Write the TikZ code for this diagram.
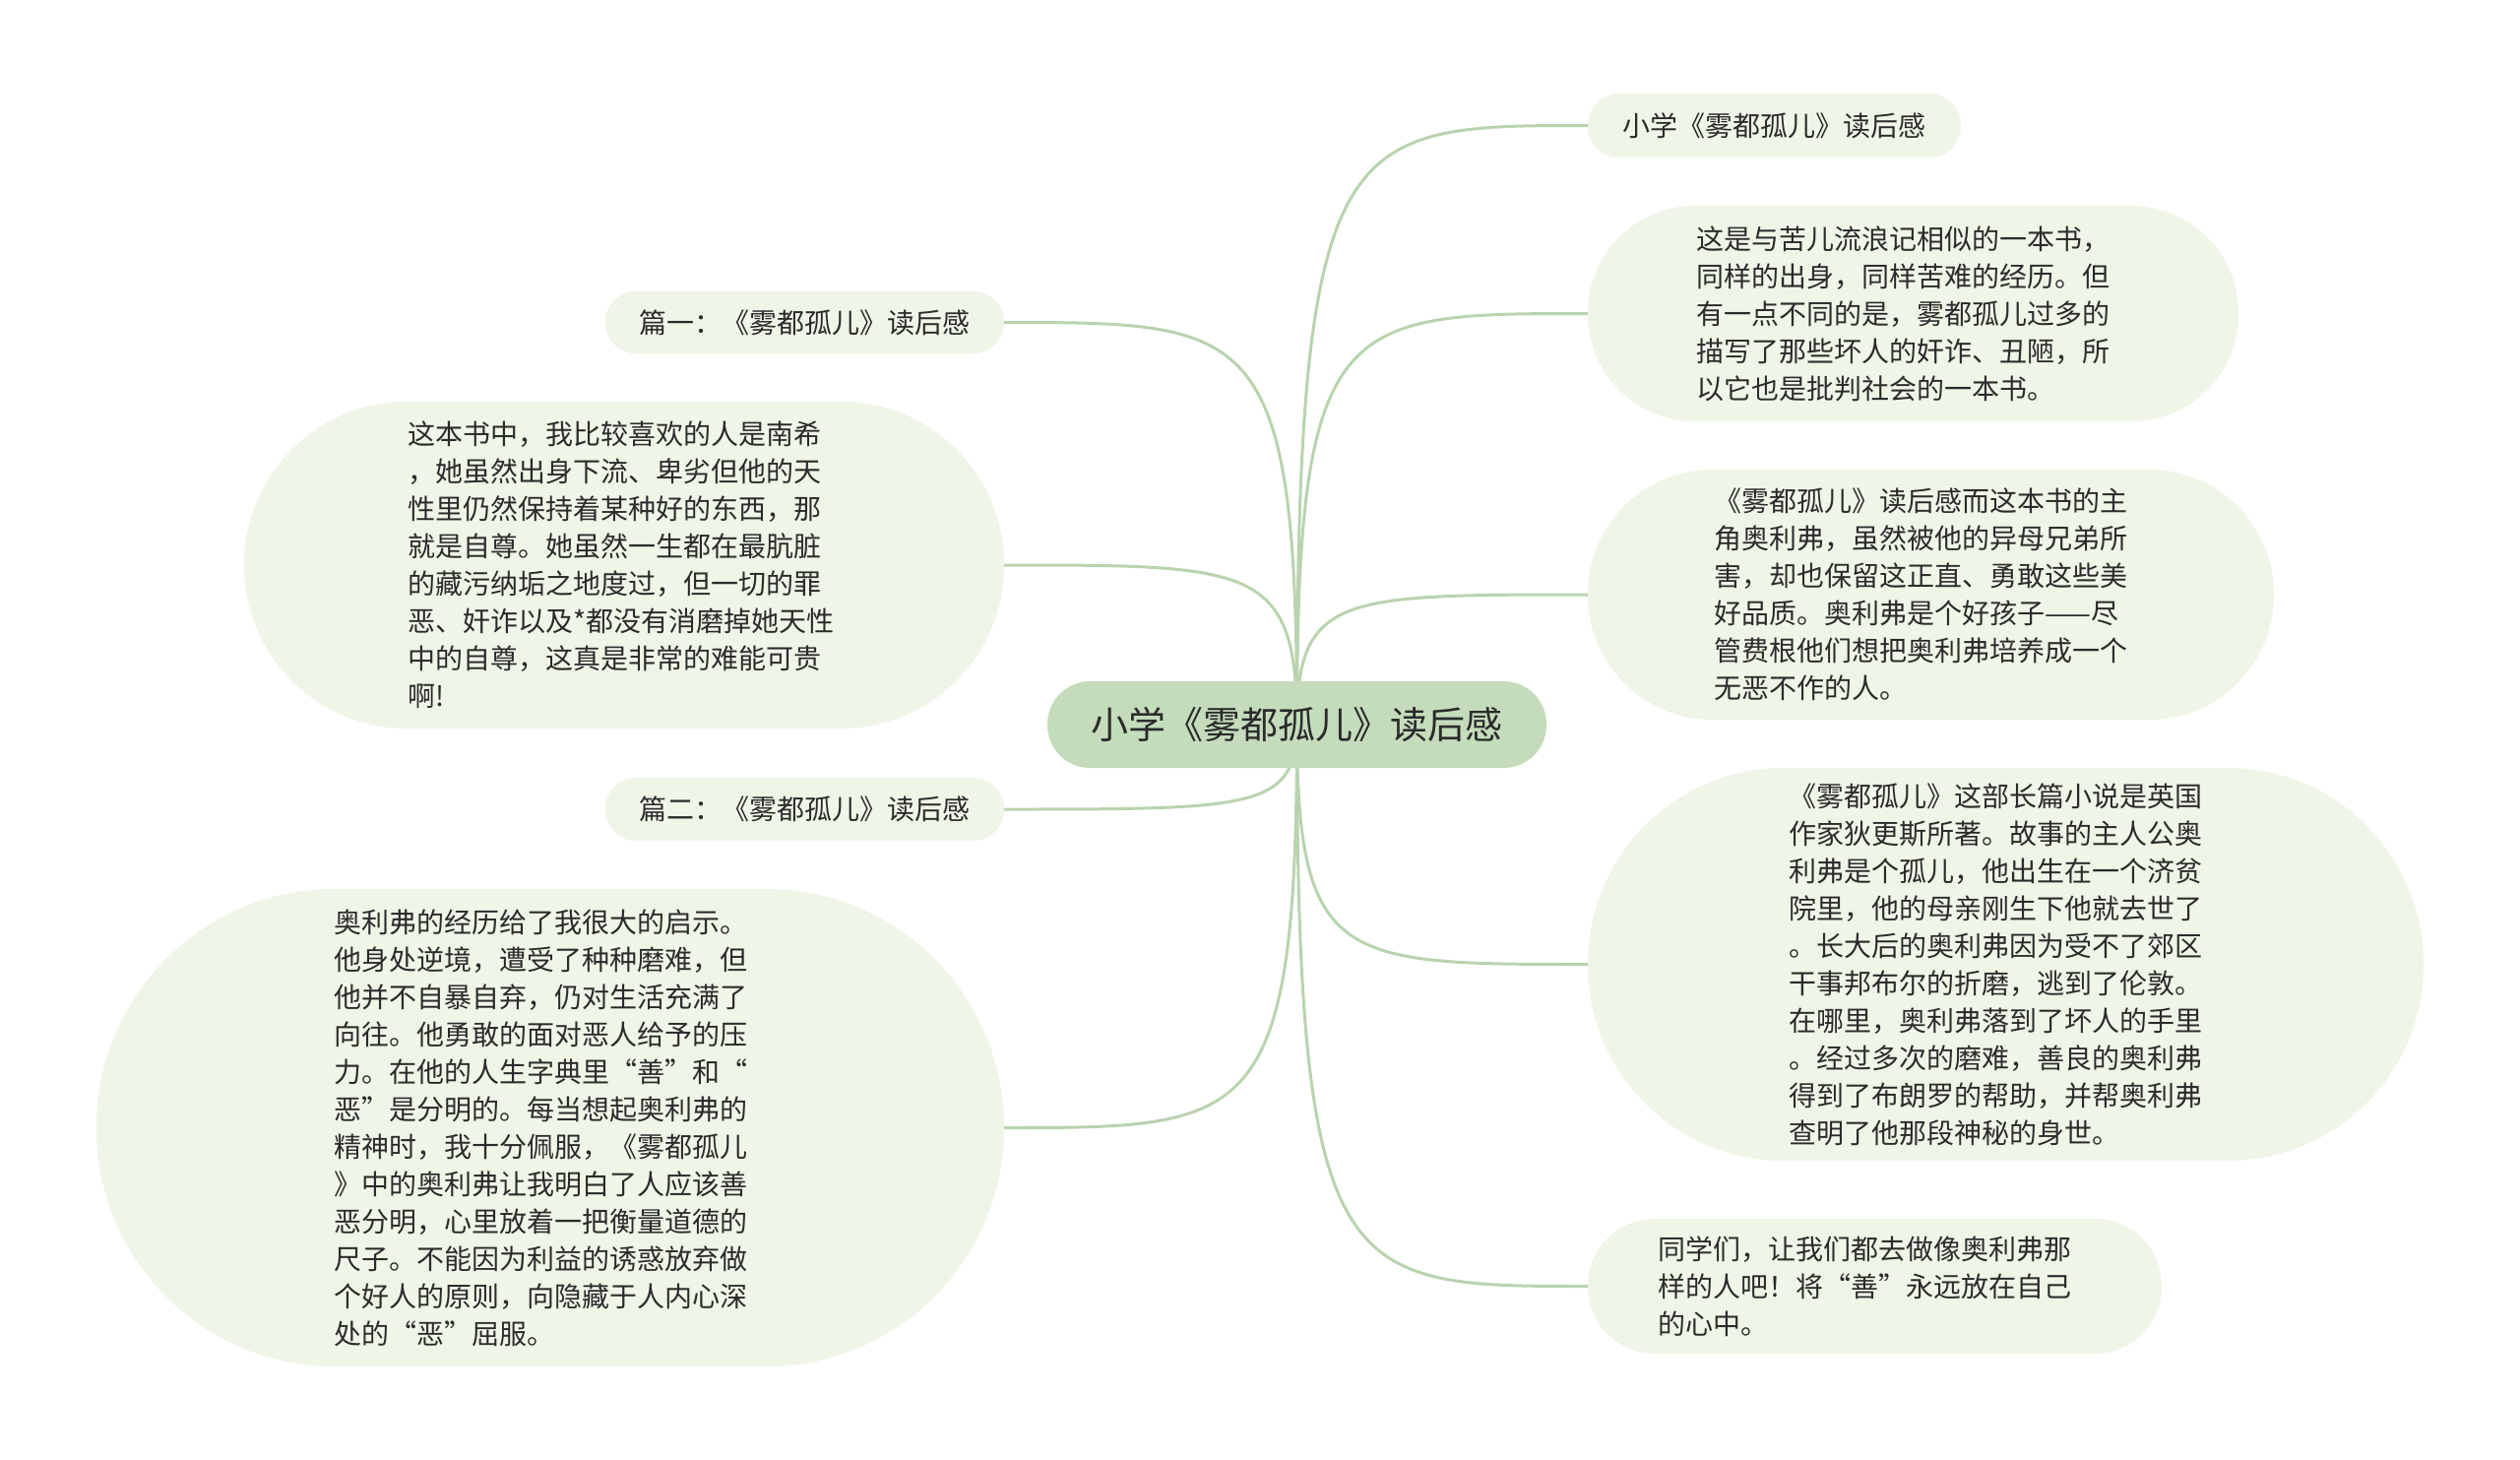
\documentclass[tikz,border=0pt]{standalone}
\usepackage{fontspec}
\setmainfont{Noto Sans CJK SC}
\usetikzlibrary{calc}
\pgfdeclarelayer{paper}
\pgfdeclarelayer{bg}
\pgfsetlayers{paper,bg,main}
\definecolor{leaffill}{HTML}{EFF5E7}
\definecolor{rootfill}{HTML}{C4DCBB}
\definecolor{linkc}{HTML}{B9D3AF}
\definecolor{txt}{HTML}{2B2B2B}
\begin{document}
\begin{tikzpicture}[x=1pt,y=-1pt,
  box/.style={rectangle, fill=leaffill, inner sep=0pt, align=left, text=txt,
    font=\fontsize{28}{38}\selectfont},
  textbox/.style={box, text width=440pt},
  rootbox/.style={rectangle, fill=rootfill, inner sep=0pt, text=txt,
    font=\fontsize{38}{46}\selectfont},
  link/.style={draw=linkc, line width=3pt}]
\begin{pgfonlayer}{paper}
\fill[white] (0,0) rectangle (2560,1483);
\end{pgfonlayer}
\useasboundingbox (0,0) rectangle (2560,1483);

\node[rootbox, minimum width=507pt, minimum height=88pt, rounded corners=43.5pt] (root) at (1317.5,736) {小学《雾都孤儿》读后感};

\node[box, minimum width=379pt, minimum height=65pt, rounded corners=32pt] (r1) at (1802.5,127.5) {小学《雾都孤儿》读后感};

\node[textbox, minimum width=661pt, minimum height=219pt, rounded corners=109pt] (r2) at (1943.5,318.5) {这是与苦儿流浪记相似的一本书，\\
同样的出身，同样苦难的经历。但\\
有一点不同的是，雾都孤儿过多的\\
描写了那些坏人的奸诈、丑陋，所\\
以它也是批判社会的一本书。};

\node[textbox, minimum width=697pt, minimum height=254pt, rounded corners=126.5pt] (r3) at (1961.5,604) {《雾都孤儿》读后感而这本书的主\\
角奥利弗，虽然被他的异母兄弟所\\
害，却也保留这正直、勇敢这些美\\
好品质。奥利弗是个好孩子——尽\\
管费根他们想把奥利弗培养成一个\\
无恶不作的人。};

\node[textbox, minimum width=849pt, minimum height=399pt, rounded corners=199pt] (r4) at (2037.5,979.5) {《雾都孤儿》这部长篇小说是英国\\
作家狄更斯所著。故事的主人公奥\\
利弗是个孤儿，他出生在一个济贫\\
院里，他的母亲刚生下他就去世了\\
。长大后的奥利弗因为受不了郊区\\
干事邦布尔的折磨，逃到了伦敦。\\
在哪里，奥利弗落到了坏人的手里\\
。经过多次的磨难，善良的奥利弗\\
得到了布朗罗的帮助，并帮奥利弗\\
查明了他那段神秘的身世。};

\node[textbox, minimum width=583pt, minimum height=137pt, rounded corners=68pt] (r5) at (1904.5,1306.5) {同学们，让我们都去做像奥利弗那\\
样的人吧！将“善”永远放在自己\\
的心中。};

\node[box, minimum width=405pt, minimum height=63pt, rounded corners=31pt] (l1) at (817.5,327.5) {篇一：《雾都孤儿》读后感};

\node[textbox, minimum width=772pt, minimum height=332pt, rounded corners=165.5pt] (l2) at (634,574) {这本书中，我比较喜欢的人是南希\\
，她虽然出身下流、卑劣但他的天\\
性里仍然保持着某种好的东西，那\\
就是自尊。她虽然一生都在最肮脏\\
的藏污纳垢之地度过，但一切的罪\\
恶、奸诈以及*都没有消磨掉她天性\\
中的自尊，这真是非常的难能可贵\\
啊!};

\node[box, minimum width=405pt, minimum height=64pt, rounded corners=31.5pt] (l3) at (817.5,822) {篇二：《雾都孤儿》读后感};

\node[textbox, minimum width=922pt, minimum height=485pt, rounded corners=242pt] (l4) at (559,1145.5) {奥利弗的经历给了我很大的启示。\\
他身处逆境，遭受了种种磨难，但\\
他并不自暴自弃，仍对生活充满了\\
向往。他勇敢的面对恶人给予的压\\
力。在他的人生字典里“善”和“\\
恶”是分明的。每当想起奥利弗的\\
精神时，我十分佩服，《雾都孤儿\\
》中的奥利弗让我明白了人应该善\\
恶分明，心里放着一把衡量道德的\\
尺子。不能因为利益的诱惑放弃做\\
个好人的原则，向隐藏于人内心深\\
处的“恶”屈服。};

\begin{pgfonlayer}{bg}
\foreach \t in {r1,r2,r3,r4,r5}
  \draw[link] (root.center) .. controls (root.center |- \t.west)
    and ($(root.center |- \t.west)!0.15!(\t.west)$) .. (\t.west);
\foreach \t in {l1,l2,l3,l4}
  \draw[link] (root.center) .. controls (root.center |- \t.east)
    and ($(root.center |- \t.east)!0.15!(\t.east)$) .. (\t.east);
\end{pgfonlayer}
\end{tikzpicture}
\end{document}
